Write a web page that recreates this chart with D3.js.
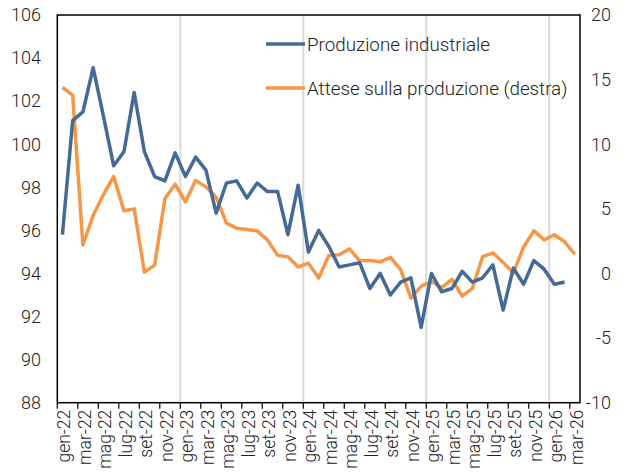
<!DOCTYPE html>
<html><head><meta charset="utf-8">
<script src="https://cdn.jsdelivr.net/npm/d3@7"></script>
<style>
body{margin:0;background:#fff;}
svg text{font-family:Roboto,"Noto Sans",sans-serif;font-weight:300;fill:#222;}
</style></head>
<body><svg id="c" width="625" height="472"></svg>
<script>
const monthNames = ["gen","feb","mar","apr","mag","giu","lug","ago","set","ott","nov","dic"];
const years = ["22","23","24","25","26"];
const months = [];
years.forEach(y => monthNames.forEach(m => months.push(m + "-" + y)));
months.length = 51; // gen-22 .. mar-26

const produzione = [95.8,101.1,101.5,103.55,101.3,99.0,99.65,102.4,99.65,98.5,98.3,99.6,
  98.5,99.4,98.8,96.8,98.2,98.3,97.5,98.2,97.8,97.8,95.8,98.1,
  95.0,96.0,95.25,94.3,94.4,94.5,93.3,94.0,93.0,93.6,93.8,91.5,
  94.0,93.15,93.3,94.1,93.6,93.8,94.4,92.3,94.25,93.5,94.6,94.2,93.5,93.6,null];
const attese = [14.4,13.8,2.2,4.5,6.1,7.5,4.85,5.0,0.1,0.65,5.8,6.9,
  5.55,7.2,6.7,5.9,3.9,3.5,3.4,3.3,2.6,1.4,1.3,0.5,
  0.8,-0.35,1.4,1.45,1.9,1.0,1.0,0.9,1.25,0.3,-1.9,-1.0,
  -0.6,-1.1,-0.45,-1.75,-1.15,1.3,1.6,0.85,0.05,2.05,3.3,2.6,3.0,2.45,1.5];
const leftTicks = [88,90,92,94,96,98,100,102,104,106];
const rightTicks = [-10,-5,0,5,10,15,20];
const seriesNames = ["Produzione industriale","Attese sulla produzione (destra)"];
const colors = ["#456A98","#F79646"];

const L = 57.3, R = 580, T = 15, B = 402.7;
const svg = d3.select("#c");
const x = d3.scaleBand().domain(months).range([L, R]).padding(0);
const yL = d3.scaleLinear().domain([88,106]).range([B, T]);
const yR = d3.scaleLinear().domain([-10,20]).range([B, T]);
const cx = d => x(d) + x.bandwidth()/2;

// vertical gridlines at january boundaries (except first)
svg.append("g").selectAll("line").data(months.filter((m,i) => m.startsWith("gen") && i > 0))
  .join("line").attr("x1", d => x(d)).attr("x2", d => x(d)).attr("y1", T).attr("y2", B)
  .attr("stroke", "#d9d9d9").attr("stroke-width", 2);

// lines
const lineL = d3.line().defined(d => d[1] != null).x(d => cx(d[0])).y(d => yL(d[1]));
const lineR = d3.line().defined(d => d[1] != null).x(d => cx(d[0])).y(d => yR(d[1]));
svg.append("path").datum(months.map((m,i) => [m, attese[i]])).attr("d", lineR)
  .attr("fill","none").attr("stroke", colors[1]).attr("stroke-width", 3.5).attr("stroke-linejoin","round");
svg.append("path").datum(months.map((m,i) => [m, produzione[i]])).attr("d", lineL)
  .attr("fill","none").attr("stroke", colors[0]).attr("stroke-width", 3.5).attr("stroke-linejoin","round");

// frame
svg.append("rect").attr("x", L).attr("y", T).attr("width", R-L).attr("height", B-T)
  .attr("fill","none").attr("stroke","#000").attr("stroke-width",1.5);

// left axis labels
svg.append("g").selectAll("text").data(leftTicks).join("text")
  .attr("x", 41).attr("y", d => yL(d)).attr("dy","0.35em").attr("text-anchor","end")
  .attr("font-size", 18).text(d => d);
// right axis labels
svg.append("g").selectAll("text").data(rightTicks).join("text")
  .attr("x", 611).attr("y", d => yR(d)).attr("dy","0.35em").attr("text-anchor","end")
  .attr("font-size", 18).text(d => d);

// x ticks at every 2nd boundary
const tickIdx = d3.range(0, 52, 2);
svg.append("g").selectAll("line").data(tickIdx).join("line")
  .attr("x1", i => i < 51 ? x(months[i]) : R).attr("x2", i => i < 51 ? x(months[i]) : R)
  .attr("y1", B).attr("y2", B + 6).attr("stroke","#000").attr("stroke-width",1.2);
// x labels
svg.append("g").selectAll("text").data(months.filter((m,i) => i % 2 === 0)).join("text")
  .attr("transform", d => `translate(${cx(d) + 1.5},${B + 7}) rotate(-90)`)
  .attr("dy","0.35em").attr("text-anchor","end").attr("font-size", 17.5).text(d => d);

// legend
const leg = svg.append("g");
[[44,0],[88,1]].forEach(([ly,k]) => {
  leg.append("line").attr("x1",266).attr("x2",305).attr("y1",ly).attr("y2",ly)
    .attr("stroke",colors[k]).attr("stroke-width",3.5);
  leg.append("text").attr("x",307).attr("y",ly).attr("dy","0.35em").attr("font-size",18.8).text(seriesNames[k]);
});
</script></body></html>
